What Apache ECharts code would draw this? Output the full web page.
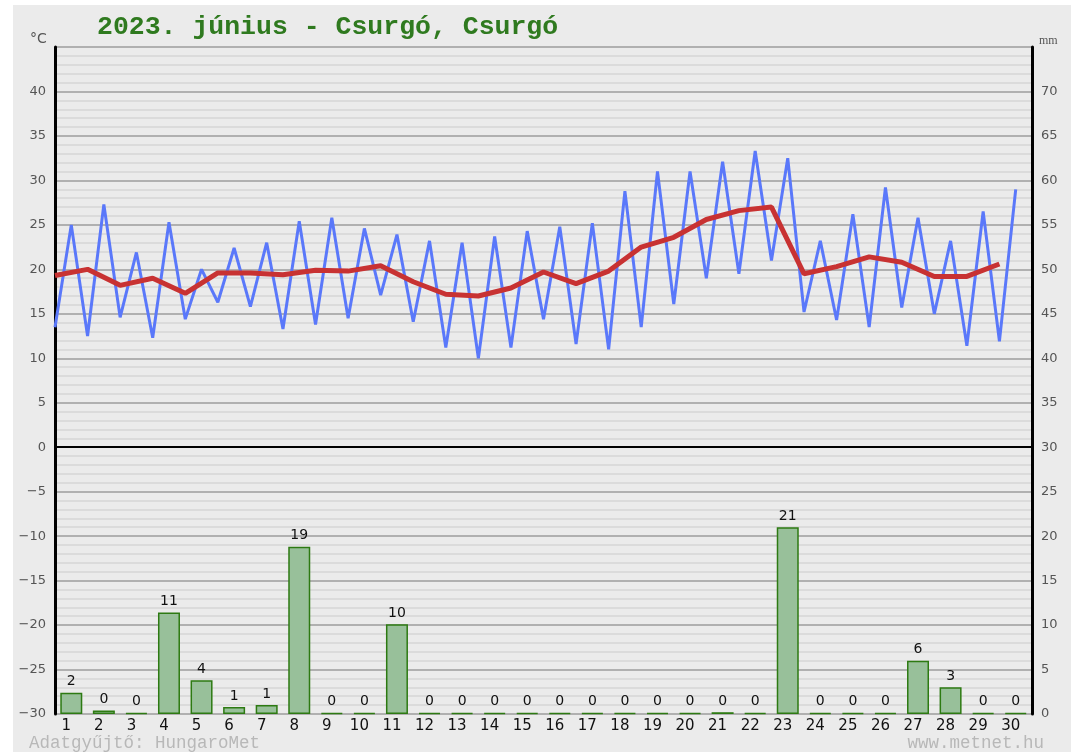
<!DOCTYPE html>
<html>
<head>
<meta charset="utf-8">
<title>2023. június - Csurgó</title>
<script src="https://cdn.jsdelivr.net/npm/echarts@6/dist/echarts.min.js"></script>
<style>
	html, body { margin: 0; padding: 0; background: #fff; }
	#chart { width: 1071px; height: 752px; }
</style>
</head>
<body>
<div id="chart"></div>
<script>
// napok
const days = ['1','2','3','4','5','6','7','8','9','10','11','12','13','14','15','16','17','18','19','20','21','22','23','24','25','26','27','28','29','30'];
// napi minimum / maximum hőmérséklet (°C)
const tMin = [13.5, 12.5, 14.6, 12.3, 14.4, 16.3, 15.8, 13.3, 13.8, 14.5, 17.1, 14.1, 11.2, 10.0, 11.2, 14.4, 11.6, 11.0, 13.5, 16.1, 19.0, 19.5, 21.0, 15.2, 14.3, 13.5, 15.7, 15.0, 11.4, 11.9];
const tMax = [25.0, 27.3, 21.9, 25.3, 20.0, 22.4, 23.0, 25.4, 25.8, 24.6, 23.9, 23.2, 23.0, 23.7, 24.3, 24.8, 25.2, 28.8, 31.0, 31.0, 32.1, 33.3, 32.5, 23.2, 26.2, 29.2, 25.8, 23.2, 26.5, 29.0];
// napi középhőmérséklet (°C)
const tMean = [19.3, 20.0, 18.2, 19.0, 17.3, 19.6, 19.6, 19.4, 19.9, 19.8, 20.4, 18.6, 17.2, 17.0, 17.9, 19.7, 18.4, 19.8, 22.5, 23.6, 25.6, 26.6, 27.0, 19.5, 20.3, 21.4, 20.8, 19.2, 19.2, 20.6];
// csapadék (mm)
const precip = [2.4, 0.4, 0, 11.4, 3.8, 0.8, 1.0, 18.8, 0, 0, 10.1, 0, 0, 0, 0, 0, 0, 0, 0, 0, 0.2, 0, 21.0, 0, 0, 0, 6.0, 3.0, 0, 0];

const zigzag = [];
tMin.forEach((v, i) => {
	zigzag.push([i, v]);
	zigzag.push([i + 0.5, tMax[i]]);
});
const meanLine = tMean.map((v, i) => [i, v]);

const myChart = echarts.init(document.getElementById('chart'));
const option = {
	animation: false,
	backgroundColor: '#fff',
	graphic: [
		{ type: 'rect', z: -10, shape: { x: 13, y: 5, width: 1058, height: 747 }, style: { fill: '#ebebeb' } },
		{ type: 'text', left: 97, top: 14, style: { text: '2023. június - Csurgó, Csurgó', font: 'bold 26.5px "Liberation Mono"', fill: '#2f7a1f' } },
		{ type: 'text', left: 30, top: 32, style: { text: '°C', font: '14px "DejaVu Sans"', fill: '#555' } },
		{ type: 'text', left: 1039, top: 35, style: { text: 'mm', font: '12px "Liberation Serif"', fill: '#555' } },
		{ type: 'text', left: 29, top: 734, style: { text: 'Adatgyűjtő: HungaroMet', font: '17.5px "Liberation Mono"', fill: '#b8b8b8' } },
		{ type: 'text', right: 27, top: 734, style: { text: 'www.metnet.hu', font: '17.5px "Liberation Mono"', fill: '#b8b8b8' } },
	],
	grid: { left: 55, right: 39, top: 47, bottom: 38 },
	xAxis: [
		{
			type: 'category',
			data: days,
			boundaryGap: true,
			axisLine: { show: false },
			axisTick: { show: false },
			axisLabel: { color: '#111', fontSize: 15, fontFamily: 'DejaVu Sans', margin: 5, padding: [0, 10, 0, 0] },
		},
		{ type: 'value', min: 0, max: 30, show: false },
	],
	yAxis: [
		{
			type: 'value',
			min: -30,
			max: 45,
			interval: 5,
			axisLine: { show: true, onZero: false, lineStyle: { color: '#000', width: 3 } },
			axisTick: { show: false },
			axisLabel: {
				color: '#555',
				fontSize: 13,
				fontFamily: 'DejaVu Sans',
				margin: 9,
				formatter: (v) => (v === 45 ? '' : String(v).replace('-', '−')),
			},
			splitLine: { show: true, lineStyle: { color: '#9c9c9c', width: 1.5 } },
			minorTick: { show: false, splitNumber: 5 },
			minorSplitLine: { show: true, lineStyle: { color: '#d6d6d6', width: 1.5 } },
		},
		{
			type: 'value',
			min: 0,
			max: 75,
			interval: 5,
			position: 'right',
			axisLine: { show: true, onZero: false, lineStyle: { color: '#000', width: 3 } },
			axisTick: { show: false },
			axisLabel: { color: '#555', fontSize: 13, fontFamily: 'DejaVu Sans', margin: 9, formatter: (v) => (v === 75 ? '' : v) },
			splitLine: { show: false },
		},
	],
	series: [
		{
			name: 'csapadék',
			type: 'bar',
			xAxisIndex: 0,
			yAxisIndex: 1,
			data: precip,
			barWidth: 22,
			barMinHeight: 1,
			itemStyle: { color: '#98c09a', borderColor: '#2d7a12', borderWidth: 1.5 },
			label: {
				show: true,
				position: 'top',
				distance: 4,
				color: '#111',
				fontSize: 14,
				fontFamily: 'DejaVu Sans',
				formatter: (p) => Math.round(p.value),
			},
			markLine: {
				silent: true,
				symbol: 'none',
				label: { show: false },
				lineStyle: { color: '#000', width: 2, type: 'solid' },
				data: [{ yAxis: 30 }],
			},
		},
		{
			name: 'hőmérséklet',
			type: 'line',
			xAxisIndex: 1,
			yAxisIndex: 0,
			data: zigzag,
			showSymbol: false,
			lineStyle: { color: '#5a78fa', width: 3 },
			z: 3,
		},
		{
			name: 'középhőmérséklet',
			type: 'line',
			xAxisIndex: 1,
			yAxisIndex: 0,
			data: meanLine,
			showSymbol: false,
			lineStyle: { color: '#c83232', width: 5 },
			z: 4,
		},
	],
};
myChart.setOption(option);
</script>
</body>
</html>
